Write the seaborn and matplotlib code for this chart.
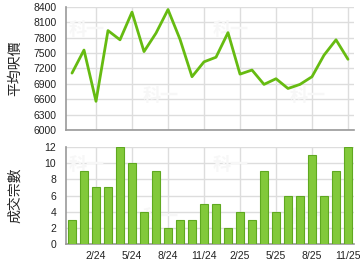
import matplotlib
matplotlib.use("Agg")
import matplotlib.pyplot as plt
import seaborn as sns
import pandas as pd

months = ["12/23", "1/24", "2/24", "3/24", "4/24", "5/24", "6/24", "7/24", "8/24", "9/24",
          "10/24", "11/24", "12/24", "1/25", "2/25", "3/25", "4/25", "5/25", "6/25", "7/25",
          "8/25", "9/25", "10/25", "11/25"]
avg_price = [7110, 7560, 6560, 7940, 7760, 8300, 7530, 7890, 8350, 7770,
             7040, 7330, 7420, 7900, 7090, 7170, 6890, 7000, 6810, 6890,
             7040, 7460, 7760, 7380]
deals = [3, 9, 7, 7, 12, 10, 4, 9, 2, 3, 3, 5, 5, 2, 4, 3, 9, 4, 6, 6, 11, 6, 9, 12]
tick_labels = ["2/24", "5/24", "8/24", "11/24", "2/25", "5/25", "8/25", "11/25"]
price_ticks = [6000, 6300, 6600, 6900, 7200, 7500, 7800, 8100, 8400]
deal_ticks = [0, 2, 4, 6, 8, 10, 12]

df = pd.DataFrame({"idx": range(len(months)), "month": months,
                   "price": avg_price, "deals": deals})
tick_pos = [months.index(t) for t in tick_labels]

sns.set_style("white")
plt.rcParams['font.family'] = ['Liberation Sans', 'DejaVu Sans']
cjk = ['Noto Sans CJK TC', 'DejaVu Sans']

fig = plt.figure(figsize=(3.6, 2.7), dpi=100)
W, H = 360, 270
ax1 = fig.add_axes([66 / W, 1 - 130 / H, 288 / W, 123 / H])
ax2 = fig.add_axes([66 / W, 1 - 244 / H, 288 / W, 97 / H])

grid_c = "#dddddd"
axis_c = "#999999"

# faint watermarks
for ax in (ax1, ax2):
    for (wx, wy) in [(0.07, 0.82), (0.33, 0.28), (0.57, 0.82), (0.84, 0.28)]:
        ax.text(wx, wy, "科一", transform=ax.transAxes, color="#f7f7f7", fontsize=13,
                fontweight="bold", family=cjk, ha="center", va="center", zorder=1)

sns.lineplot(data=df, x="idx", y="price", ax=ax1, color="#66bb11", linewidth=2, zorder=3)
ax1.set_xlim(-0.5, 23.5)
ax1.set_ylim(6000, 8400)
ax1.set_yticks(price_ticks)
ax1.set_xticks(tick_pos)
ax1.set_xticklabels([])
ax1.set_xlabel("")
ax1.set_ylabel("平均呎價", family=cjk, fontsize=10)

sns.barplot(data=df, x="idx", y="deals", ax=ax2, color="#82c93a", edgecolor="#5fa820",
            linewidth=0.8, width=0.72, saturation=1, zorder=3)
ax2.set_xlim(-0.5, 23.5)
ax2.set_ylim(0, 12)
ax2.set_yticks(deal_ticks)
ax2.set_xticks(tick_pos)
ax2.set_xticklabels(tick_labels)
ax2.set_xlabel("")
ax2.set_ylabel("成交宗數", family=cjk, fontsize=10)

for ax in (ax1, ax2):
    ax.grid(True, color=grid_c, linewidth=1, zorder=0)
    ax.set_axisbelow(True)
    for s in ("top", "right"):
        ax.spines[s].set_visible(False)
    for s in ("left", "bottom"):
        ax.spines[s].set_color(axis_c)
        ax.spines[s].set_linewidth(1.2)
    ax.tick_params(axis="both", labelsize=7.5, colors="#222222", length=5, width=0.8,
                   direction="out", pad=2)
    ax.tick_params(axis="x", length=0, pad=5)
    ax.tick_params(axis="both", color=axis_c)
    ax.yaxis.set_label_coords(-0.153, 0.5)

fig.savefig("out.png", dpi=100)
